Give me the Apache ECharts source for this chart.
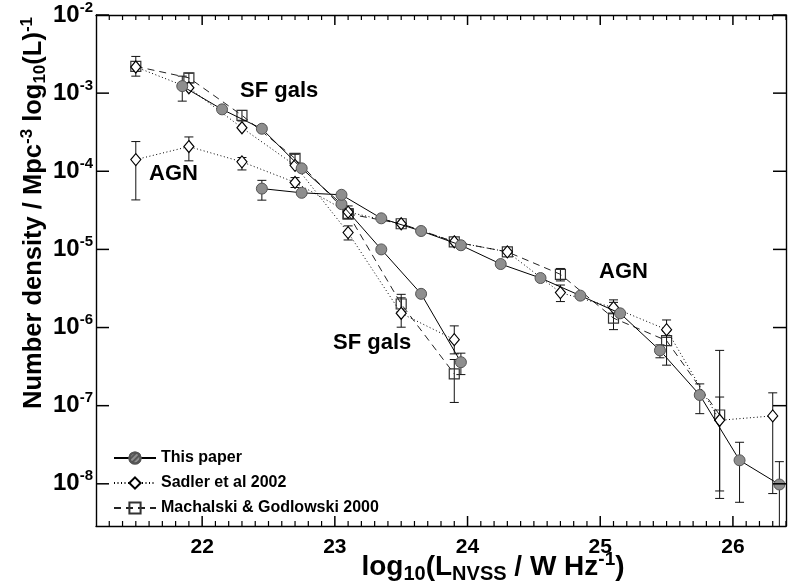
<!DOCTYPE html>
<html>
<head>
<meta charset="utf-8">
<script src="https://cdn.jsdelivr.net/npm/echarts@6/dist/echarts.min.js"></script>
<style>
  html, body { margin: 0; padding: 0; background: #fff; }
  #main { width: 788px; height: 587px; }
</style>
</head>
<body>
<div id="main"></div>
<script>
// log10(L) bins and number densities
var paperSfX = [21.85, 22.15, 22.45, 22.75, 23.05, 23.35, 23.65, 23.95];
var paperSfY = [1.23e-3, 6.2e-4, 3.5e-4, 1.09e-4, 3.8e-5, 1.0e-5, 2.7e-6, 3.6e-7];
var paperAgnX = [22.45, 22.75, 23.05, 23.35, 23.65, 23.95, 24.25, 24.55, 24.85, 25.15, 25.45, 25.75, 26.05, 26.35];
var paperAgnY = [6.0e-5, 5.3e-5, 5.0e-5, 2.5e-5, 1.72e-5, 1.13e-5, 6.5e-6, 4.3e-6, 2.56e-6, 1.52e-6, 5.1e-7, 1.37e-7, 2.0e-8, 9.8e-9];

var sadlerSfX = [21.5, 21.9, 22.3, 22.7, 23.1, 23.5, 23.9];
var sadlerSfY = [2.16e-3, 1.17e-3, 3.6e-4, 1.19e-4, 1.64e-5, 1.52e-6, 7.0e-7];
var sadlerAgnX = [21.5, 21.9, 22.3, 22.7, 23.1, 23.5, 23.9, 24.3, 24.7, 25.1, 25.5, 25.9, 26.3];
var sadlerAgnY = [1.41e-4, 2.07e-4, 1.32e-4, 7.2e-5, 3.0e-5, 2.13e-5, 1.25e-5, 9.3e-6, 2.8e-6, 1.8e-6, 9.4e-7, 6.5e-8, 7.4e-8];

var machSfX = [21.5, 21.9, 22.3, 22.7, 23.1, 23.5, 23.9];
var machSfY = [2.2e-3, 1.57e-3, 5.2e-4, 1.46e-4, 2.85e-5, 2.0e-6, 2.55e-7];
var machAgnX = [23.1, 23.5, 23.9, 24.3, 24.7, 25.1, 25.5, 25.9];
var machAgnY = [2.85e-5, 2.13e-5, 1.25e-5, 9.3e-6, 4.8e-6, 1.32e-6, 6.8e-7, 7.6e-8];

// error bars: x, lower, upper
var paperErrX = [21.85, 23.95, 22.45, 25.45, 25.75, 26.05, 26.35];
var paperErrLo = [7.9e-4, 2.5e-7, 4.27e-5, 4.1e-7, 7.9e-8, 5.8e-9, 1e-9];
var paperErrHi = [1.65e-3, 4.7e-7, 7.65e-5, 6.0e-7, 1.9e-7, 3.4e-8, 1.92e-8];

var sadlerErrX = [21.5, 21.9, 22.3, 22.7, 23.1, 23.5, 23.9, 24.7, 25.1, 25.5, 25.9, 26.3];
var sadlerErrLo = [4.3e-5, 1.36e-4, 1.04e-4, 6.2e-5, 1.32e-5, 1.01e-6, 4.6e-7, 2.15e-6, 1.5e-6, 7.5e-7, 6.5e-9, 7.5e-9];
var sadlerErrHi = [2.4e-4, 2.75e-4, 1.5e-4, 8.3e-5, 2.0e-5, 2.66e-6, 1.05e-6, 3.5e-6, 2.1e-6, 1.25e-6, 1.29e-7, 1.46e-7];

var machErrX = [21.5, 21.9, 22.3, 22.7, 23.1, 23.5, 23.9, 24.7, 25.1, 25.5, 25.9];
var machErrLo = [1.65e-3, 1.35e-3, 4.4e-4, 1.25e-4, 2.5e-5, 1.6e-6, 1.1e-7, 3.95e-6, 9.4e-7, 3.3e-7, 8.1e-9];
var machErrHi = [2.95e-3, 1.8e-3, 6.0e-4, 1.65e-4, 3.6e-5, 2.4e-6, 3.9e-7, 5.7e-6, 2.26e-6, 9e-7, 5.1e-7];

var xMajorTicks = [22, 23, 24, 25, 26];
var yDecades = [-8, -7, -6, -5, -4, -3, -2];

var X_MIN = 21.2, X_MAX = 26.4, Y_MIN = -8.54, Y_MAX = -2;
var FONT = "'Liberation Sans', Arial, Helvetica, sans-serif";

var xMinorTicks = [];
for (var t = 213; t <= 264; t++) {
  if (t % 10 !== 0) xMinorTicks.push(t / 10);
}

function pts(xs, ys) {
  return xs.map(function (x, i) { return [x, Math.log10(ys[i])]; });
}
function errs(xs, lo, hi) {
  return xs.map(function (x, i) { return [x, Math.log10(lo[i]), Math.log10(hi[i])]; });
}

function renderErr(params, api) {
  var x = api.value(0);
  var a = api.coord([x, api.value(1)]);
  var b = api.coord([x, api.value(2)]);
  var w = 4.5;
  var st = { stroke: '#111', lineWidth: 1 };
  return {
    type: 'group',
    children: [
      { type: 'line', shape: { x1: a[0], y1: a[1], x2: b[0], y2: b[1] }, style: st },
      { type: 'line', shape: { x1: a[0] - w, y1: a[1], x2: a[0] + w, y2: a[1] }, style: st },
      { type: 'line', shape: { x1: b[0] - w, y1: b[1], x2: b[0] + w, y2: b[1] }, style: st }
    ]
  };
}

var chart = echarts.init(document.getElementById('main'));

var paperStyle = {
  type: 'line', name: 'This paper', symbol: 'circle', symbolSize: 11, z: 5,
  itemStyle: {
    color: '#8e8e8e', borderColor: '#555', borderWidth: 1,
    decal: { symbol: 'rect', color: 'rgba(40,40,40,0.55)', dashArrayX: [1, 0], dashArrayY: [1.2, 1.6], rotation: -Math.PI / 4 }
  },
  lineStyle: { color: '#000', width: 1, type: 'solid' }
};
var sadlerStyle = {
  type: 'line', name: 'Sadler et al 2002', symbol: 'diamond', symbolSize: [10, 12], z: 4,
  itemStyle: { color: '#fff', borderColor: '#000', borderWidth: 1.2 },
  lineStyle: { color: '#000', width: 1, type: [1, 2.5] }
};
var machStyle = {
  type: 'line', name: 'Machalski & Godlowski 2000', symbol: 'rect', symbolSize: 10, z: 3,
  itemStyle: { color: 'rgba(255,255,255,0)', borderColor: '#333', borderWidth: 1.2 },
  lineStyle: { color: '#222', width: 1, type: [7, 5] }
};

function lineSeries(base, data) {
  return Object.assign({}, base, { data: data, animation: false });
}
function errSeriesOf(xs, lo, hi) {
  return {
    type: 'custom', renderItem: renderErr, data: errs(xs, lo, hi), clip: true, z: 2,
    encode: { x: 0, y: [1, 2] }, animation: false, silent: true
  };
}

var axisLine = { show: true, onZero: false, lineStyle: { color: '#000', width: 1.4 } };

var textGraphics = [
  {
    type: 'text', x: 493, y: 567,
    style: {
      text: '{a|log}{d|10}{a|(L}{d|NVSS}{a| / W Hz}{p|-1}{a|)}',
      align: 'center', verticalAlign: 'middle',
      rich: {
        a: { fontFamily: FONT, fontSize: 28, fontWeight: 'bold', fill: '#000', lineHeight: 34 },
        d: { fontFamily: FONT, fontSize: 20, fontWeight: 'bold', fill: '#000', lineHeight: 14, verticalAlign: 'bottom' },
        p: { fontFamily: FONT, fontSize: 19, fontWeight: 'bold', fill: '#000', lineHeight: 14, verticalAlign: 'top' }
      }
    }
  },
  {
    type: 'text', x: 34, y: 213, rotation: Math.PI / 2,
    style: {
      text: '{a|Number density / Mpc}{p|-3}{a| log}{d|10}{a|(L)}{p|-1}',
      align: 'center', verticalAlign: 'middle',
      rich: {
        a: { fontFamily: FONT, fontSize: 25.5, fontWeight: 'bold', fill: '#000', lineHeight: 30 },
        d: { fontFamily: FONT, fontSize: 17, fontWeight: 'bold', fill: '#000', lineHeight: 12, verticalAlign: 'bottom' },
        p: { fontFamily: FONT, fontSize: 17, fontWeight: 'bold', fill: '#000', lineHeight: 12, verticalAlign: 'top' }
      }
    }
  },
  { type: 'text', x: 240, y: 91, style: { text: 'SF gals', fontFamily: FONT, fontSize: 22, fontWeight: 'bold', fill: '#000', verticalAlign: 'middle' } },
  { type: 'text', x: 149, y: 174, style: { text: 'AGN', fontFamily: FONT, fontSize: 22, fontWeight: 'bold', fill: '#000', verticalAlign: 'middle' } },
  { type: 'text', x: 333, y: 343, style: { text: 'SF gals', fontFamily: FONT, fontSize: 22, fontWeight: 'bold', fill: '#000', verticalAlign: 'middle' } },
  { type: 'text', x: 599, y: 272, style: { text: 'AGN', fontFamily: FONT, fontSize: 22, fontWeight: 'bold', fill: '#000', verticalAlign: 'middle' } }
];

var option = {
  backgroundColor: '#fff',
  animation: false,
  grid: { left: 96, right: 2, top: 12, bottom: 61 },
  legend: {
    data: ['This paper', 'Sadler et al 2002', 'Machalski & Godlowski 2000'],
    orient: 'vertical', left: 113, top: 450, padding: 0,
    itemWidth: 42, itemHeight: 14, itemGap: 9,
    textStyle: { fontFamily: FONT, fontSize: 16, fontWeight: 'bold', color: '#000' }
  },
  xAxis: [
    {
      type: 'value', min: X_MIN, max: X_MAX, position: 'bottom',
      splitLine: { show: false }, axisLine: axisLine, axisTick: { show: false },
      axisLabel: { customValues: xMajorTicks, margin: 11, color: '#000', fontFamily: FONT, fontSize: 21, fontWeight: 'bold' }
    },
    {
      type: 'value', min: X_MIN, max: X_MAX, position: 'top',
      splitLine: { show: false }, axisLine: axisLine, axisTick: { show: false }, axisLabel: { show: false }
    }
  ],
  yAxis: [
    {
      type: 'value', min: Y_MIN, max: Y_MAX, position: 'left',
      splitLine: { show: false }, axisLine: axisLine, axisTick: { show: false },
      axisLabel: {
        customValues: yDecades, margin: 3, color: '#000',
        formatter: function (v) { return '{b|10}{s|' + v + '}'; },
        rich: {
          b: { fontFamily: FONT, fontSize: 24, fontWeight: 'bold', color: '#000', lineHeight: 30 },
          s: { fontFamily: FONT, fontSize: 15, fontWeight: 'bold', color: '#000', lineHeight: 14, verticalAlign: 'top' }
        }
      }
    },
    {
      type: 'value', min: Y_MIN, max: Y_MAX, position: 'right',
      splitLine: { show: false }, axisLine: axisLine, axisTick: { show: false }, axisLabel: { show: false }
    }
  ],
  graphic: textGraphics,
  series: [
    errSeriesOf(machErrX, machErrLo, machErrHi),
    errSeriesOf(sadlerErrX, sadlerErrLo, sadlerErrHi),
    errSeriesOf(paperErrX, paperErrLo, paperErrHi),
    lineSeries(machStyle, pts(machSfX, machSfY)),
    lineSeries(machStyle, pts(machAgnX, machAgnY)),
    lineSeries(sadlerStyle, pts(sadlerSfX, sadlerSfY)),
    lineSeries(sadlerStyle, pts(sadlerAgnX, sadlerAgnY)),
    lineSeries(paperStyle, pts(paperSfX, paperSfY)),
    lineSeries(paperStyle, pts(paperAgnX, paperAgnY))
  ]
};

chart.setOption(option);

// frame ticks (inward, on all four sides), placed through the grid's own scales
function px(x, y) { return chart.convertToPixel({ gridIndex: 0 }, [x, y]); }
var tickGraphics = [];
function xTick(v, len, w) {
  var b = px(v, Y_MIN), t = px(v, Y_MAX);
  var st = { stroke: '#000', lineWidth: w };
  tickGraphics.push({ type: 'line', z: 50, shape: { x1: b[0], y1: b[1], x2: b[0], y2: b[1] - len }, style: st });
  tickGraphics.push({ type: 'line', z: 50, shape: { x1: t[0], y1: t[1], x2: t[0], y2: t[1] + len }, style: st });
}
function yTick(v, len, w) {
  var l = px(X_MIN, v), r = px(X_MAX, v);
  var st = { stroke: '#000', lineWidth: w };
  tickGraphics.push({ type: 'line', z: 50, shape: { x1: l[0], y1: l[1], x2: l[0] + len, y2: l[1] }, style: st });
  tickGraphics.push({ type: 'line', z: 50, shape: { x1: r[0], y1: r[1], x2: r[0] - len, y2: r[1] }, style: st });
}
xMajorTicks.forEach(function (v) { xTick(v, 10, 1.5); });
xMinorTicks.forEach(function (v) { xTick(v, 5, 1.2); });
yDecades.forEach(function (v) { yTick(v, 13, 1.5); });

chart.setOption({ graphic: textGraphics.concat(tickGraphics) });
</script>
</body>
</html>
